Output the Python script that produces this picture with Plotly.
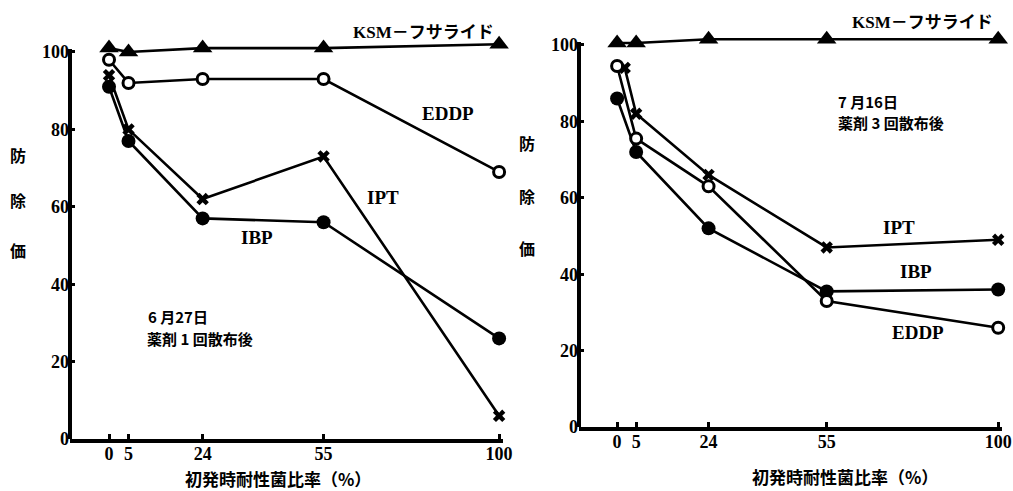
import plotly.graph_objects as go

# ---- data ----
x_vals = [0, 5, 24, 55, 100]
x_tick_labels = ["0", "5", "24", "55", "100"]
y_ticks = [0, 20, 40, 60, 80, 100]

# Panel 1: 6月27日 薬剤1回散布後
p1_ksm = [101, 100, 101, 101, 102]
p1_eddp = [98, 92, 93, 93, 69]
p1_ipt = [94, 80, 62, 73, 6]
p1_ibp = [91, 77, 57, 56, 26]

# Panel 2: 7月16日 薬剤3回散布後
p2_ksm = [100.5, 100.5, 101.5, 101.5, 101.5]
p2_eddp = [94.5, 75.5, 63, 33, 26]
p2_ipt_x = [2, 5, 24, 55, 100]
p2_ipt = [94, 82, 66, 47, 49]
p2_ibp = [86, 72, 52, 35.5, 36]

W, H = 1013, 491
fig = go.Figure()

def add_series(xs, ys, sym, fill, size, xa, ya, lw=2.6):
    fig.add_trace(go.Scatter(
        x=xs, y=ys, mode="lines+markers", xaxis=xa, yaxis=ya,
        line=dict(color="black", width=lw),
        marker=dict(symbol=sym, size=size, color=fill,
                    line=dict(color="black", width=3 if fill == "white" else 0)),
        cliponaxis=False, showlegend=False))

for xa, ya, ksm, eddp, ipt_x, ipt, ibp in [
    ("x", "y", p1_ksm, p1_eddp, x_vals, p1_ipt, p1_ibp),
    ("x2", "y2", p2_ksm, p2_eddp, p2_ipt_x, p2_ipt, p2_ibp),
]:
    add_series(x_vals, ksm, "triangle-up", "black", 17, xa, ya)
    add_series(x_vals, ibp, "circle", "black", 14, xa, ya)
    add_series(ipt_x, ipt, "x", "black", 11, xa, ya)
    add_series(x_vals, eddp, "circle", "white", 11, xa, ya)

num_font = dict(family="Liberation Serif", size=18, color="black", weight="bold")

def px_x(p):
    return p / W

def px_y(p):
    return 1 - p / H

xaxis_common = dict(
    range=[-10, 101], tickvals=x_vals, ticktext=x_tick_labels,
    showline=True, linewidth=4, linecolor="black", ticks="inside",
    ticklen=5, tickwidth=3, tickcolor="black", showgrid=False,
    zeroline=False, tickfont=num_font, fixedrange=True, automargin=False,
    ticklabelstandoff=-5)
yaxis_common = dict(
    range=[0, 104], tickvals=y_ticks,
    showline=False, ticks="inside",
    ticklen=5, tickwidth=3, tickcolor="black", showgrid=False,
    zeroline=False, tickfont=num_font, fixedrange=True, automargin=False)

fig.update_layout(
    width=W, height=H,
    margin=dict(l=0, r=0, t=0, b=0),
    paper_bgcolor="white", plot_bgcolor="white",
    xaxis=dict(domain=[px_x(70), px_x(503)], anchor="y", **xaxis_common),
    yaxis=dict(domain=[px_y(439), px_y(36.5)], anchor="x", **yaxis_common),
    xaxis2=dict(domain=[px_x(579), px_x(1002)], anchor="y2", **xaxis_common),
    yaxis2=dict(domain=[px_y(427), px_y(29.7)], anchor="x2", **yaxis_common),
)

# vertical axis lines, from 0 up to just above 100
for xr, yr in [("x domain", "y"), ("x2 domain", "y2")]:
    fig.add_shape(type="line", xref=xr, yref=yr, x0=0, x1=0, y0=0, y1=100.8,
                  line=dict(color="black", width=4))

label_font = dict(family="Liberation Serif, Noto Sans CJK JP", size=17, color="black", weight="bold")
name_font = dict(family="Liberation Serif", size=19, color="black", weight="bold")
jp_font = dict(family="Noto Sans CJK JP", size=15, color="black", weight="bold")
ylab_font = dict(family="Noto Sans CJK JP", size=16, color="black", weight="bold")
title_font = dict(family="Noto Sans CJK JP", size=17, color="black", weight="bold")

def ann(text, x, y, font, xanchor="center"):
    fig.add_annotation(text=text, x=px_x(x), y=px_y(y), xref="paper", yref="paper",
                       showarrow=False, font=font, xanchor=xanchor, yanchor="middle")

# Panel 1 labels
ann("KSM－フサライド", 423, 33, label_font)
ann("EDDP", 448, 113, name_font)
ann("IPT", 383, 197, name_font)
ann("IBP", 257, 237, name_font)
ann("6 月27日", 146, 316, jp_font, "left")
ann("薬剤 1 回散布後", 145, 338, jp_font, "left")
for ch, yy in [("防", 155), ("除", 200), ("価", 250)]:
    ann(ch, 18, yy, ylab_font)
ann("初発時耐性菌比率（%）", 278, 478, title_font)

# Panel 2 labels
ann("KSM－フサライド", 922, 23, label_font)
ann("7 月16日", 836, 102, jp_font, "left")
ann("薬剤 3 回散布後", 836, 123, jp_font, "left")
ann("IPT", 899, 227, name_font)
ann("IBP", 916, 271, name_font)
ann("EDDP", 918, 332, name_font)
for ch, yy in [("防", 143), ("除", 196), ("価", 248)]:
    ann(ch, 527, yy, ylab_font)
ann("初発時耐性菌比率（%）", 845, 476, title_font)

fig.write_html(
    "out.html",
    config={"displayModeBar": False},
    post_script="document.body.style.margin='0';document.documentElement.style.overflow='hidden';document.body.style.overflow='hidden';",
)
